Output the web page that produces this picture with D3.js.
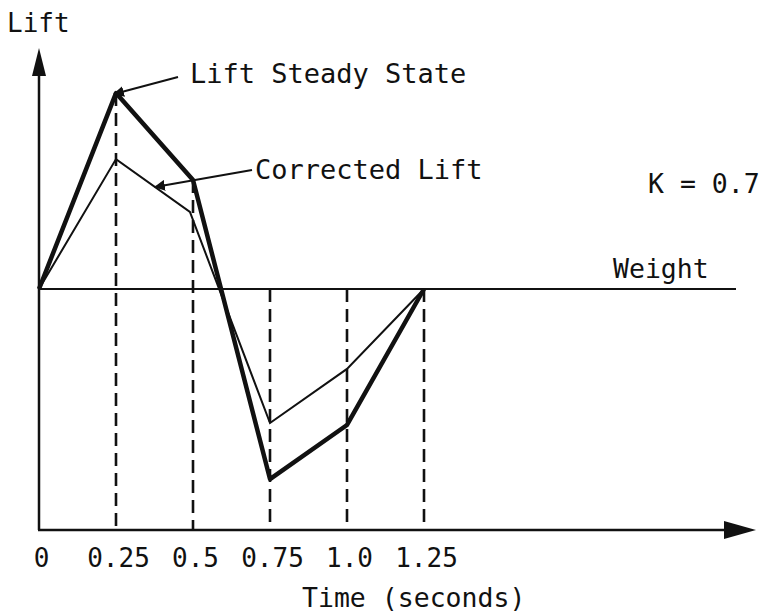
<!DOCTYPE html>
<html>
<head>
<meta charset="utf-8">
<script src="https://cdn.jsdelivr.net/npm/d3@7"></script>
<style>
  html, body { margin: 0; padding: 0; background: #fff; }
  svg { display: block; }
  text { font-family: "DejaVu Sans Mono", "Liberation Mono", monospace; fill: #111; }
</style>
</head>
<body>
<svg id="chart" width="761" height="614"></svg>
<script>
// ---- data ----
const times = [0, 0.25, 0.5, 0.75, 1.0, 1.25];
const steadyLift = [0, 1.0, 0.556, -0.97, -0.694, 0];
const correctedTimes = [0, 0.25, 0.49, 0.75, 1.0, 1.25];
const correctedLift = [0, 0.663, 0.393, -0.684, -0.408, 0];
const tickLabels = ["0", "0.25", "0.5", "0.75", "1.0", "1.25"];
const weightLevel = 0;

// ---- layout ----
const svg = d3.select("#chart");
const x0 = 39, axisY = 530, topY = 48;
const x = d3.scaleLinear().domain([0, 1.25]).range([x0, 424]);
const y = d3.scaleLinear().domain([-1.23, 1.23]).range([axisY, topY]);
const ink = "#111";

// dashed verticals
svg.append("g").selectAll("line")
  .data(times.slice(1))
  .join("line")
  .attr("x1", d => x(d)).attr("x2", d => x(d))
  .attr("y1", (d, i) => Math.min(y(steadyLift[i + 1]), y(weightLevel)))
  .attr("y2", axisY)
  .attr("stroke", ink).attr("stroke-width", 2.6)
  .attr("stroke-dasharray", "13,7");

// weight line
svg.append("line")
  .attr("x1", x0).attr("x2", 736)
  .attr("y1", y(weightLevel)).attr("y2", y(weightLevel))
  .attr("stroke", ink).attr("stroke-width", 2);

// axes
svg.append("line").attr("x1", x0).attr("x2", x0).attr("y1", axisY).attr("y2", 70)
  .attr("stroke", ink).attr("stroke-width", 2.5);
svg.append("line").attr("x1", x0 - 1).attr("x2", 730).attr("y1", axisY).attr("y2", axisY)
  .attr("stroke", ink).attr("stroke-width", 2.5);
svg.append("path").attr("d", `M${x0},${topY} L${x0 - 7},76 L${x0 + 7},76 Z`).attr("fill", ink);
svg.append("path").attr("d", `M756,${axisY} L724,${axisY - 9} L724,${axisY + 9} Z`).attr("fill", ink);

// x tick labels via d3 axis
const xAxis = d3.axisBottom(x)
  .tickValues(times)
  .tickFormat((d, i) => tickLabels[i])
  .tickSize(0)
  .tickPadding(19);
const gx = svg.append("g").attr("transform", `translate(0,${axisY})`).call(xAxis);
gx.select(".domain").remove();
gx.selectAll("text")
  .attr("font-size", 26)
  .attr("dx", 2)
  .style("font-family", '"DejaVu Sans Mono", monospace')
  .attr("fill", ink);

// series lines
const line = d3.line().x(d => x(d[0])).y(d => y(d[1]));
svg.append("path")
  .datum(correctedTimes.map((t, i) => [t, correctedLift[i]]))
  .attr("d", line).attr("fill", "none")
  .attr("stroke", ink).attr("stroke-width", 2).attr("stroke-linejoin", "miter");
svg.append("path")
  .datum(times.map((t, i) => [t, steadyLift[i]]))
  .attr("d", line).attr("fill", "none")
  .attr("stroke", ink).attr("stroke-width", 4.5).attr("stroke-linejoin", "round");

// annotation arrows
const defs = svg.append("defs");
defs.append("marker").attr("id", "ah")
  .attr("viewBox", "0 0 10 10").attr("refX", 9).attr("refY", 5)
  .attr("markerWidth", 11).attr("markerHeight", 11)
  .attr("markerUnits", "userSpaceOnUse")
  .attr("orient", "auto")
  .append("path").attr("d", "M0,0 L10,5 L0,10 Z").attr("fill", ink);

svg.append("line")
  .attr("x1", 178).attr("y1", 77).attr("x2", x(0.25) - 2).attr("y2", y(steadyLift[1]) + 1)
  .attr("stroke", ink).attr("stroke-width", 2).attr("marker-end", "url(#ah)");
svg.append("line")
  .attr("x1", 252).attr("y1", 170).attr("x2", 155).attr("y2", 187)
  .attr("stroke", ink).attr("stroke-width", 2).attr("marker-end", "url(#ah)");

// texts
const txt = (s, tx, ty, fs) => svg.append("text").attr("x", tx).attr("y", ty)
  .attr("font-size", fs).text(s);
txt("Lift", 7, 32, 26);
txt("Lift Steady State", 190, 83, 27);
txt("Corrected Lift", 255, 179, 27);
txt("K = 0.7", 648, 193, 26.5);
txt("Weight", 613, 278, 26.5);
txt("Time (seconds)", 302, 607, 26.5);
</script>
</body>
</html>
